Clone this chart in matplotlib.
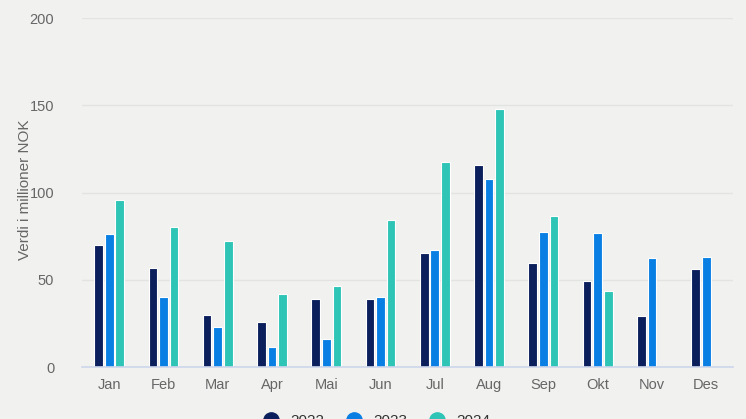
import matplotlib.pyplot as plt
from matplotlib.lines import Line2D
import numpy as np

plt.rcParams['font.family'] = ['Liberation Sans', 'DejaVu Sans']

months = ['Jan', 'Feb', 'Mar', 'Apr', 'Mai', 'Jun', 'Jul', 'Aug', 'Sep',
          'Okt', 'Nov', 'Des']
years = ['2022', '2023', '2024']
v2022 = [70, 57, 30, 26, 39, 39, 65.5, 116, 59.5, 49.5, 29.5, 56]
v2023 = [76, 40, 23, 11.5, 16, 40, 67, 107.5, 77.5, 77, 62.5, 63]
v2024 = [96, 80.5, 72, 42, 46.5, 84, 117.5, 148, 86.5, 43.5, np.nan, np.nan]

colors = ['#0b1f5c', '#0a7fe3', '#2ec4b6']
bg = '#f1f2f0'
text_col = '#666666'

fig = plt.figure(figsize=(7.46, 4.19), dpi=100, facecolor=bg)
ax = fig.add_axes([0.110, 0.124, 0.873, 0.833], facecolor=bg)

x = np.arange(len(months))
step = 0.195
width = 0.16
for i, (vals, c) in enumerate(zip([v2022, v2023, v2024], colors)):
    ax.bar(x + (i - 1) * step, vals, width=width, color=c,
           edgecolor='white', linewidth=0.8, zorder=3)

ax.set_xlim(-0.5, len(months) - 0.5)
ax.set_ylim(0, 200)
ax.set_yticks([0, 50, 100, 150, 200])
ax.set_xticks(x)
ax.set_xticklabels(months)
ax.grid(axis='y', color='#e2e4e2', linewidth=1, zorder=0)
for s in ['top', 'right', 'left']:
    ax.spines[s].set_visible(False)
ax.spines['bottom'].set_color('#ccd6eb')
ax.spines['bottom'].set_linewidth(1.2)
ax.spines['bottom'].set_zorder(4)
ax.tick_params(axis='both', length=0, colors=text_col, labelsize=10.5)
ax.tick_params(axis='y', pad=20)
ax.tick_params(axis='x', pad=8)
ax.set_ylabel('Verdi i millioner NOK', color=text_col, fontsize=11)
ax.yaxis.set_label_coords(-0.077, 0.507)

# legend (cut off by the bottom edge, as in the original)
handles = [Line2D([], [], marker='o', linestyle='', markersize=11,
                  markerfacecolor=c, markeredgecolor=c) for c in colors]
leg = fig.legend(handles, years, loc='center', ncol=3,
                 bbox_to_anchor=(0.50, -0.005), frameon=False,
                 fontsize=11, labelcolor='#333333', columnspacing=0.9,
                 handletextpad=0.3)

fig.savefig('out.png', dpi=100, facecolor=bg)
